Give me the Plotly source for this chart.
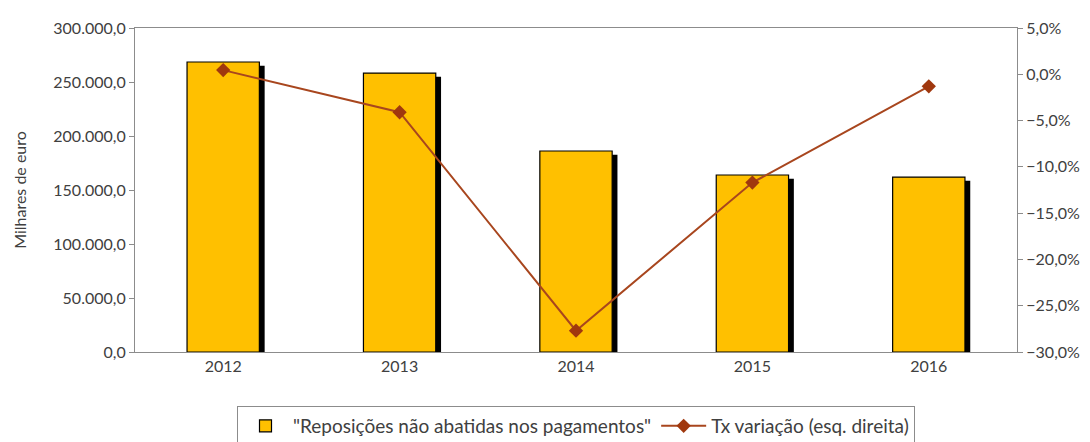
import plotly.graph_objects as go

years = ["2012", "2013", "2014", "2015", "2016"]
reposicoes = [268500, 258300, 186100, 163900, 162000]
tx_variacao = [0.0045, -0.041, -0.277, -0.117, -0.013]

bar_name = '"Reposições não abatidas nos pagamentos"'
line_name = "Tx variação (esq. direita)"

BAR_W = 0.41
SHADOW_DX = 0.03
SHADOW_DY = 3500  # shadow drop in value units

fig = go.Figure()
# shadow
fig.add_trace(go.Bar(
    x=years, y=[v - SHADOW_DY for v in reposicoes],
    width=BAR_W, offset=-BAR_W / 2 + SHADOW_DX,
    marker=dict(color="black", line=dict(width=0)),
    showlegend=False, hoverinfo="skip",
))
fig.add_trace(go.Bar(
    x=years, y=reposicoes, name=bar_name,
    width=BAR_W, offset=-BAR_W / 2,
    marker=dict(color="#FFC000", line=dict(color="black", width=1.2)),
))
fig.add_trace(go.Scatter(
    x=years, y=tx_variacao, name=line_name, yaxis="y2",
    mode="lines+markers",
    line=dict(color="#A8461E", width=2),
    marker=dict(symbol="diamond", size=11, color="#A0380E"),
))

font_family = "Lato, 'Open Sans', sans-serif"
fig.update_layout(
    width=1082, height=434,
    margin=dict(l=127, r=73, t=20, b=90, autoexpand=False),
    paper_bgcolor="white", plot_bgcolor="white",
    separators=",.",
    barmode="overlay",
    font=dict(family=font_family, size=16, color="#404040"),
    xaxis=dict(
        type="category", showline=True, linecolor="#8c8c8c", linewidth=1.2,
        mirror=True, ticks="", showgrid=False, tickfont=dict(size=16),
    ),
    yaxis=dict(
        range=[0, 300000], dtick=50000, tickformat=",.1f",
        showline=True, linecolor="#8c8c8c", linewidth=1.2,
        ticks="outside", ticklen=5, tickcolor="#8c8c8c",
        showgrid=False, zeroline=False,
        title=dict(text="Milhares de euro", font=dict(size=16), standoff=22),
        tickfont=dict(size=16),
    ),
    yaxis2=dict(
        range=[-0.30, 0.05], dtick=0.05, tickformat=".1%",
        overlaying="y", side="right",
        showline=True, linecolor="#8c8c8c", linewidth=1.2,
        ticks="outside", ticklen=5, tickcolor="#8c8c8c",
        showgrid=False, zeroline=False, tickfont=dict(size=16),
    ),
    legend=dict(
        orientation="h", x=0.5, xanchor="center",
        yref="container", y=0.083, yanchor="top",
        bordercolor="#8c8c8c", borderwidth=1, font=dict(size=19),
        itemwidth=45,
    ),
)

fig.write_html("out.html")
